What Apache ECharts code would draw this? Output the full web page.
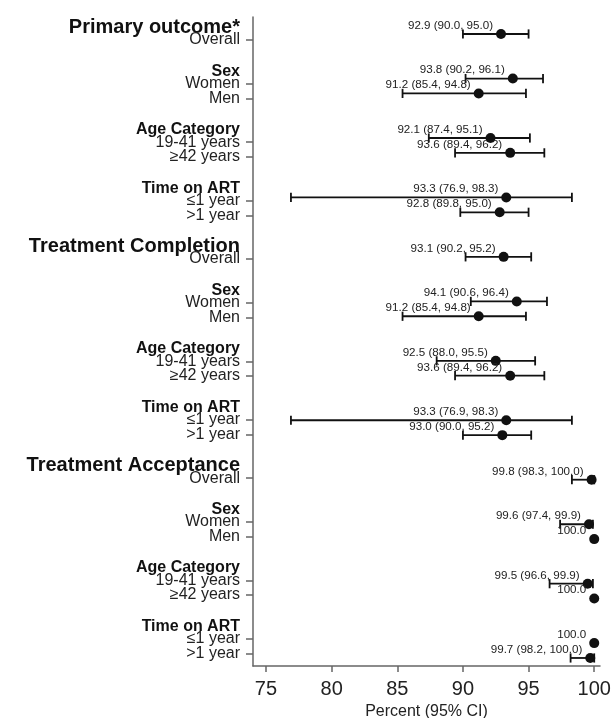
<!DOCTYPE html>
<html>
<head>
<meta charset="utf-8">
<script src="https://cdn.jsdelivr.net/npm/echarts@6/dist/echarts.min.js"></script>
<style>
  html, body { margin: 0; padding: 0; background: #fff; }
  #chart { width: 612px; height: 718px; }
</style>
</head>
<body>
<div id="chart"></div>
<script>
// ---- Data ----
const sectionTitles = ['Primary outcome*', 'Treatment Completion', 'Treatment Acceptance'];
const groupHeaders = ['Sex', 'Age Category', 'Time on ART'];
const rowLabels = ['Overall', 'Women', 'Men', '19-41 years', '\u226542 years', '\u22641 year', '>1 year'];

const primaryEst  = [92.9, 93.8, 91.2, 92.1, 93.6, 93.3, 92.8];
const primaryLow  = [90.0, 90.2, 85.4, 87.4, 89.4, 76.9, 89.8];
const primaryHigh = [95.0, 96.1, 94.8, 95.1, 96.2, 98.3, 95.0];

const completionEst  = [93.1, 94.1, 91.2, 92.5, 93.6, 93.3, 93.0];
const completionLow  = [90.2, 90.6, 85.4, 88.0, 89.4, 76.9, 90.0];
const completionHigh = [95.2, 96.4, 94.8, 95.5, 96.2, 98.3, 95.2];

const acceptanceEst  = [99.8, 99.6, 100.0, 99.5, 100.0, 100.0, 99.7];
const acceptanceLow  = [98.3, 97.4, null, 96.6, null, null, 98.2];
const acceptanceHigh = [100.0, 99.9, null, 99.9, null, null, 100.0];

const xTicks = [75, 80, 85, 90, 95, 100];
const xTitle = 'Percent (95% CI)';

// ---- Layout of rows (structural) ----
const rowOffsets = [0, 3, 4, 7, 8, 11, 12];
const headerOffsets = [3, 7, 11];
const sectionLen = 15;
const headerShift = 0.86;

const ests = [primaryEst, completionEst, acceptanceEst];
const lows = [primaryLow, completionLow, acceptanceLow];
const highs = [primaryHigh, completionHigh, acceptanceHigh];

const Y_MIN = -1.575, Y_MAX = 42.86;

// empty guard labels at both ends so ECharts' min/max-label overlap check never hides a real label
const yLabelItems = [{ v: Y_MIN + 0.05, text: '', kind: 'e' }];
const tickRows = [];
const pointData = [];
const ciData = [];

sectionTitles.forEach((title, s) => {
  const base = s * sectionLen;
  yLabelItems.push({ v: base - headerShift, text: title, kind: 't' });
  groupHeaders.forEach((h, g) => {
    yLabelItems.push({ v: base + headerOffsets[g] - headerShift, text: h, kind: 'h' });
  });
  rowLabels.forEach((lab, r) => {
    const row = base + rowOffsets[r];
    yLabelItems.push({ v: row, text: lab, kind: 'n' });
    tickRows.push(row);
    const e = ests[s][r], lo = lows[s][r], hi = highs[s][r];
    const txt = (lo == null) ? e.toFixed(1) : `${e.toFixed(1)} (${lo.toFixed(1)}, ${hi.toFixed(1)})`;
    pointData.push({ value: [e, row], label: { formatter: txt } });
    if (lo != null) ciData.push([lo, row, hi]);
  });
});
yLabelItems.push({ v: Y_MAX - 0.05, text: '', kind: 'e' });

const chart = echarts.init(document.getElementById('chart'), null, { renderer: 'canvas' });
const FONT = "'Liberation Sans', Arial, Helvetica, sans-serif";
const AX = '#666';

const option = {
  backgroundColor: '#fff',
  animation: false,
  textStyle: { fontFamily: FONT },
  grid: { left: 253, right: 12, top: 17, bottom: 52, containLabel: false, outerBoundsMode: 'none' },
  xAxis: {
    type: 'value',
    min: 74.01, max: 100.44,
    splitLine: { show: false },
    axisLine: { show: true, onZero: false, lineStyle: { color: AX, width: 1.5 } },
    axisTick: { show: true, length: 6, customValues: xTicks, lineStyle: { color: AX, width: 1.5 } },
    axisLabel: { customValues: xTicks, margin: 13, fontSize: 20, color: '#222', fontFamily: FONT,
                 showMinLabel: true, showMaxLabel: true },
    name: xTitle, nameLocation: 'middle', nameGap: 36,
    nameTextStyle: { fontSize: 16, color: '#222', fontFamily: FONT }
  },
  yAxis: [
    {
      type: 'value', inverse: true,
      min: Y_MIN, max: Y_MAX,
      splitLine: { show: false },
      axisLine: { show: true, onZero: false, lineStyle: { color: AX, width: 1.5 } },
      axisTick: { show: true, length: 7, customValues: tickRows, lineStyle: { color: AX, width: 1.5 } },
      axisLabel: {
        customValues: yLabelItems.map(i => i.v),
        margin: 13,
        hideOverlap: false,
        formatter: function (val) {
          const it = yLabelItems.find(i => Math.abs(i.v - val) < 1e-6);
          if (!it || it.kind === 'e') return '';
          return '{' + it.kind + '|' + it.text + '}';
        },
        rich: {
          t: { fontSize: 20, fontWeight: 'bold', color: '#111', fontFamily: FONT, lineHeight: 20 },
          h: { fontSize: 16, fontWeight: 'bold', color: '#111', fontFamily: FONT, lineHeight: 16 },
          n: { fontSize: 16, color: '#222', fontFamily: FONT, lineHeight: 16 }
        }
      }
    },
    {
      type: 'value', inverse: true, show: false,
      min: -1.144, max: 42.54,
      splitLine: { show: false }
    }
  ],
  series: [
    {
      type: 'custom',
      yAxisIndex: 1,
      encode: { x: [0, 2], y: 1 },
      data: ciData,
      clip: false,
      renderItem: function (params, api) {
        const lo = api.coord([api.value(0), api.value(1)]);
        const hi = api.coord([api.value(2), api.value(1)]);
        const h = 4.6;
        const style = { stroke: '#111', lineWidth: 1.8, fill: null };
        return {
          type: 'group',
          children: [
            { type: 'line', shape: { x1: lo[0], y1: lo[1], x2: hi[0], y2: hi[1] }, style: style },
            { type: 'line', shape: { x1: lo[0], y1: lo[1] - h, x2: lo[0], y2: lo[1] + h }, style: style },
            { type: 'line', shape: { x1: hi[0], y1: hi[1] - h, x2: hi[0], y2: hi[1] + h }, style: style }
          ]
        };
      }
    },
    {
      type: 'scatter',
      yAxisIndex: 1,
      symbol: 'circle',
      symbolSize: 10,
      itemStyle: { color: '#111', opacity: 1 },
      data: pointData,
      label: {
        show: true,
        position: [-3, -3.3],
        align: 'right',
        verticalAlign: 'middle',
        fontSize: 11.6,
        color: '#222',
        fontFamily: FONT
      },
      z: 3
    }
  ]
};
chart.setOption(option);
</script>
</body>
</html>
